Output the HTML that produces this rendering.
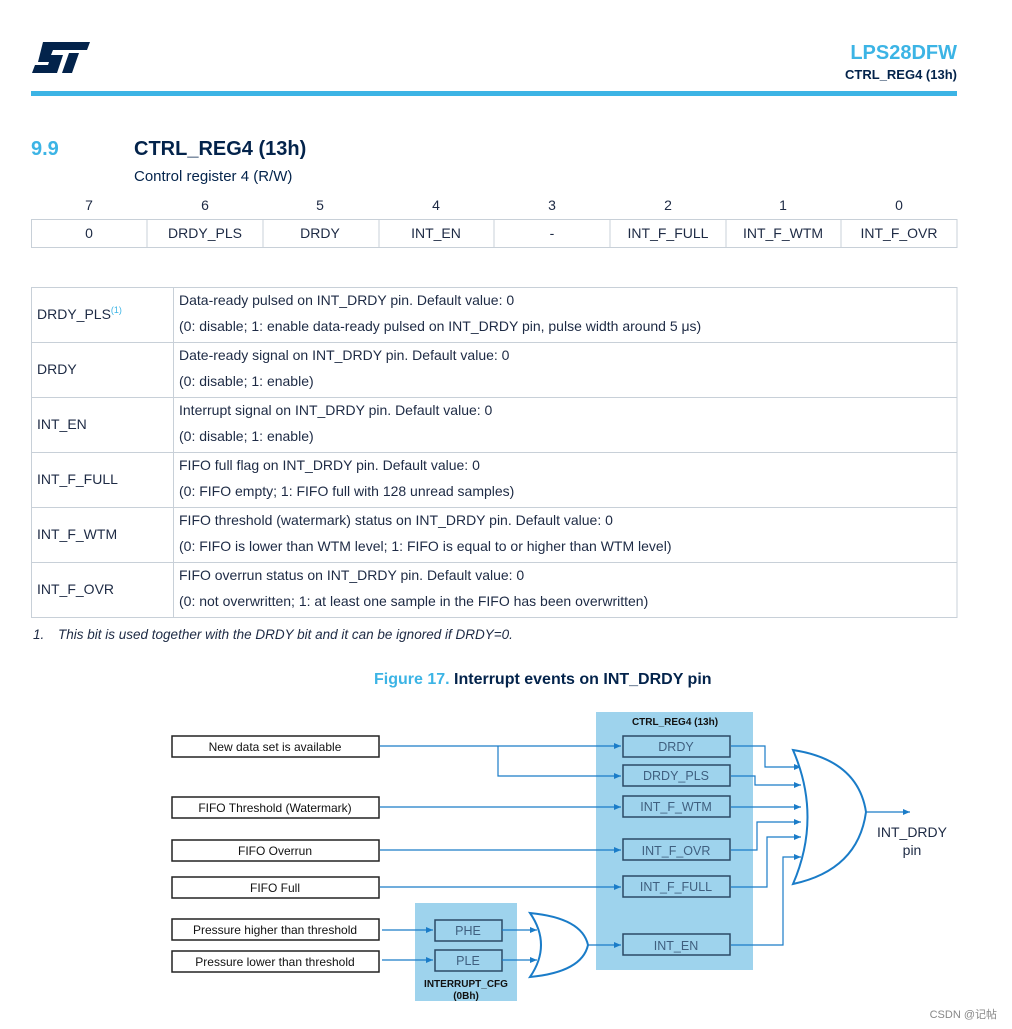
<!DOCTYPE html>
<html><head><meta charset="utf-8"><style>
html,body{margin:0;padding:0;background:#fff;}
svg{display:block;font-family:"Liberation Sans",Arial,sans-serif;}
</style></head><body>
<svg width="1012" height="1029" viewBox="0 0 1012 1029" xmlns="http://www.w3.org/2000/svg">
<defs>
<marker id="a" markerWidth="8" markerHeight="8" refX="7" refY="4" orient="auto" markerUnits="userSpaceOnUse">
<path d="M0,1 L7,4 L0,7 z" fill="#1a7cc8"/></marker>
</defs>
<!-- logo -->
<path d="M43,42 L90,42 L87,50 L53,50 L51,55 L63,55 L57,73 L32,73 L35,65 L48,65 L49,62 L38,62 Z" fill="#03234b"/>
<path d="M69,53 L79,53 L72,73 L62,73 Z" fill="#03234b"/>
<text x="957" y="59" text-anchor="end" font-size="20" font-weight="bold" fill="#3cb4e5">LPS28DFW</text>
<text x="957" y="79" text-anchor="end" font-size="13" font-weight="bold" fill="#03234b">CTRL_REG4 (13h)</text>
<rect x="31" y="91" width="926" height="5" fill="#3cb4e5"/>
<text x="31" y="155" font-size="20" font-weight="bold" fill="#3cb4e5">9.9</text>
<text x="134" y="155" font-size="20" font-weight="bold" fill="#03234b">CTRL_REG4 (13h)</text>
<text x="134" y="181" font-size="15" fill="#03234b">Control register 4 (R/W)</text>
<!-- bit table -->
<g font-size="14" fill="#1d2a44" text-anchor="middle">
<text x="89" y="210">7</text><text x="205" y="210">6</text><text x="320" y="210">5</text><text x="436" y="210">4</text>
<text x="552" y="210">3</text><text x="668" y="210">2</text><text x="783" y="210">1</text><text x="899" y="210">0</text>
<rect x="31.5" y="219.5" width="925.5" height="28" fill="none" stroke="#c8d0d8"/>
<g stroke="#c8d0d8"><line x1="147" y1="219" x2="147" y2="248"/><line x1="263" y1="219" x2="263" y2="248"/><line x1="379" y1="219" x2="379" y2="248"/><line x1="494" y1="219" x2="494" y2="248"/><line x1="610" y1="219" x2="610" y2="248"/><line x1="726" y1="219" x2="726" y2="248"/><line x1="841" y1="219" x2="841" y2="248"/></g>
<text x="89" y="238">0</text><text x="205" y="238">DRDY_PLS</text><text x="320" y="238">DRDY</text><text x="436" y="238">INT_EN</text>
<text x="552" y="238">-</text><text x="668" y="238">INT_F_FULL</text><text x="783" y="238">INT_F_WTM</text><text x="899" y="238">INT_F_OVR</text>
</g>
<!-- description table -->
<g stroke="#c8d0d8" fill="none">
<rect x="31.5" y="287.5" width="925.5" height="330"/>
<line x1="173.5" y1="287" x2="173.5" y2="618"/>
<line x1="31" y1="342.5" x2="957" y2="342.5"/><line x1="31" y1="397.5" x2="957" y2="397.5"/>
<line x1="31" y1="452.5" x2="957" y2="452.5"/><line x1="31" y1="507.5" x2="957" y2="507.5"/>
<line x1="31" y1="562.5" x2="957" y2="562.5"/>
</g>
<g font-size="14" fill="#1d2a44">
<text x="37" y="319">DRDY_PLS<tspan font-size="9" fill="#3cb4e5" dy="-6">(1)</tspan></text>
<text x="37" y="374">DRDY</text><text x="37" y="429">INT_EN</text><text x="37" y="484">INT_F_FULL</text>
<text x="37" y="539">INT_F_WTM</text><text x="37" y="594">INT_F_OVR</text>
<text x="179" y="305">Data-ready pulsed on INT_DRDY pin. Default value: 0</text>
<text x="179" y="331">(0: disable; 1: enable data-ready pulsed on INT_DRDY pin, pulse width around 5 μs)</text>
<text x="179" y="360">Date-ready signal on INT_DRDY pin. Default value: 0</text>
<text x="179" y="386">(0: disable; 1: enable)</text>
<text x="179" y="415">Interrupt signal on INT_DRDY pin. Default value: 0</text>
<text x="179" y="441">(0: disable; 1: enable)</text>
<text x="179" y="470">FIFO full flag on INT_DRDY pin. Default value: 0</text>
<text x="179" y="496">(0: FIFO empty; 1: FIFO full with 128 unread samples)</text>
<text x="179" y="525">FIFO threshold (watermark) status on INT_DRDY pin. Default value: 0</text>
<text x="179" y="551">(0: FIFO is lower than WTM level; 1: FIFO is equal to or higher than WTM level)</text>
<text x="179" y="580">FIFO overrun status on INT_DRDY pin. Default value: 0</text>
<text x="179" y="606">(0: not overwritten; 1: at least one sample in the FIFO has been overwritten)</text>
<text x="33" y="639" font-style="italic" font-size="13.5">1.</text>
<text x="58" y="639" font-style="italic" font-size="13.5">This bit is used together with the DRDY bit and it can be ignored if DRDY=0.</text>
</g>
<text x="374" y="684" font-size="16" font-weight="bold" fill="#3cb4e5">Figure 17. <tspan fill="#03234b">Interrupt events on INT_DRDY pin</tspan></text>
<!-- diagram panels -->
<rect x="596" y="712" width="157" height="258" fill="#9ed3ed"/>
<rect x="415" y="903" width="102" height="98" fill="#9ed3ed"/>
<text x="675" y="725" font-size="10" font-weight="bold" text-anchor="middle" fill="#111">CTRL_REG4 (13h)</text>
<text x="466" y="987" font-size="10" font-weight="bold" text-anchor="middle" fill="#111">INTERRUPT_CFG</text>
<text x="466" y="999" font-size="10" font-weight="bold" text-anchor="middle" fill="#111">(0Bh)</text>
<!-- left boxes -->
<g fill="#fff" stroke="#222" stroke-width="1.5">
<rect x="172" y="736" width="207" height="21"/><rect x="172" y="797" width="207" height="21"/>
<rect x="172" y="840" width="207" height="21"/><rect x="172" y="877" width="207" height="21"/>
<rect x="172" y="919" width="207" height="21"/><rect x="172" y="951" width="207" height="21"/>
</g>
<g font-size="12" fill="#111" text-anchor="middle">
<text x="275" y="751">New data set is available</text><text x="275" y="812">FIFO Threshold (Watermark)</text>
<text x="275" y="855">FIFO Overrun</text><text x="275" y="892">FIFO Full</text>
<text x="275" y="934">Pressure higher than threshold</text><text x="275" y="966">Pressure lower than threshold</text>
</g>
<!-- register boxes -->
<g fill="#9ed3ed" stroke="#2b4a66" stroke-width="1.5">
<rect x="623" y="736" width="107" height="21"/><rect x="623" y="765" width="107" height="21"/>
<rect x="623" y="796" width="107" height="21"/><rect x="623" y="839" width="107" height="21"/>
<rect x="623" y="876" width="107" height="21"/><rect x="623" y="934" width="107" height="21"/>
<rect x="435" y="920" width="67" height="21"/><rect x="435" y="950" width="67" height="21"/>
</g>
<g font-size="12.5" fill="#3f5f7f" text-anchor="middle">
<text x="676" y="751">DRDY</text><text x="676" y="780">DRDY_PLS</text><text x="676" y="811">INT_F_WTM</text>
<text x="676" y="855">INT_F_OVR</text><text x="676" y="891">INT_F_FULL</text><text x="676" y="950">INT_EN</text>
<text x="468" y="935">PHE</text><text x="468" y="965">PLE</text>
</g>
<!-- wires -->
<g stroke="#1a7cc8" stroke-width="1.2" fill="none">
<path d="M380,746 H621" marker-end="url(#a)"/>
<path d="M498,746 V776 H621" marker-end="url(#a)"/>
<path d="M380,807 H621" marker-end="url(#a)"/>
<path d="M380,850 H621" marker-end="url(#a)"/>
<path d="M380,887 H621" marker-end="url(#a)"/>
<path d="M382,930 H433" marker-end="url(#a)"/>
<path d="M382,960 H433" marker-end="url(#a)"/>
<path d="M502,930 H537" marker-end="url(#a)"/>
<path d="M502,960 H537" marker-end="url(#a)"/>
<path d="M588,945 H621" marker-end="url(#a)"/>
<path d="M731,746 H765 V767 H801" marker-end="url(#a)"/>
<path d="M731,776 H755 V785 H801" marker-end="url(#a)"/>
<path d="M731,807 H801" marker-end="url(#a)"/>
<path d="M731,850 H757 V822 H801" marker-end="url(#a)"/>
<path d="M731,887 H767 V837 H801" marker-end="url(#a)"/>
<path d="M731,945 H783 V857 H801" marker-end="url(#a)"/>
<path d="M866,812 H910" marker-end="url(#a)"/>
</g>
<!-- OR gates -->
<g stroke="#1a7cc8" stroke-width="2" fill="#fff">
<path d="M793,750 Q822,817 793,884 Q858,870 866,812 Q858,760 793,750 Z"/>
<path d="M530,913 Q552,945 530,977 Q582,972 588,945 Q582,918 530,913 Z"/>
</g>
<text x="912" y="837" font-size="14" text-anchor="middle" fill="#1d2a44">INT_DRDY</text>
<text x="912" y="855" font-size="14" text-anchor="middle" fill="#1d2a44">pin</text>
<text x="997" y="1018" font-size="11" text-anchor="end" fill="#888" font-family="Liberation Sans, Noto Sans CJK SC, sans-serif">CSDN @记帖</text>
</svg>
</body></html>
